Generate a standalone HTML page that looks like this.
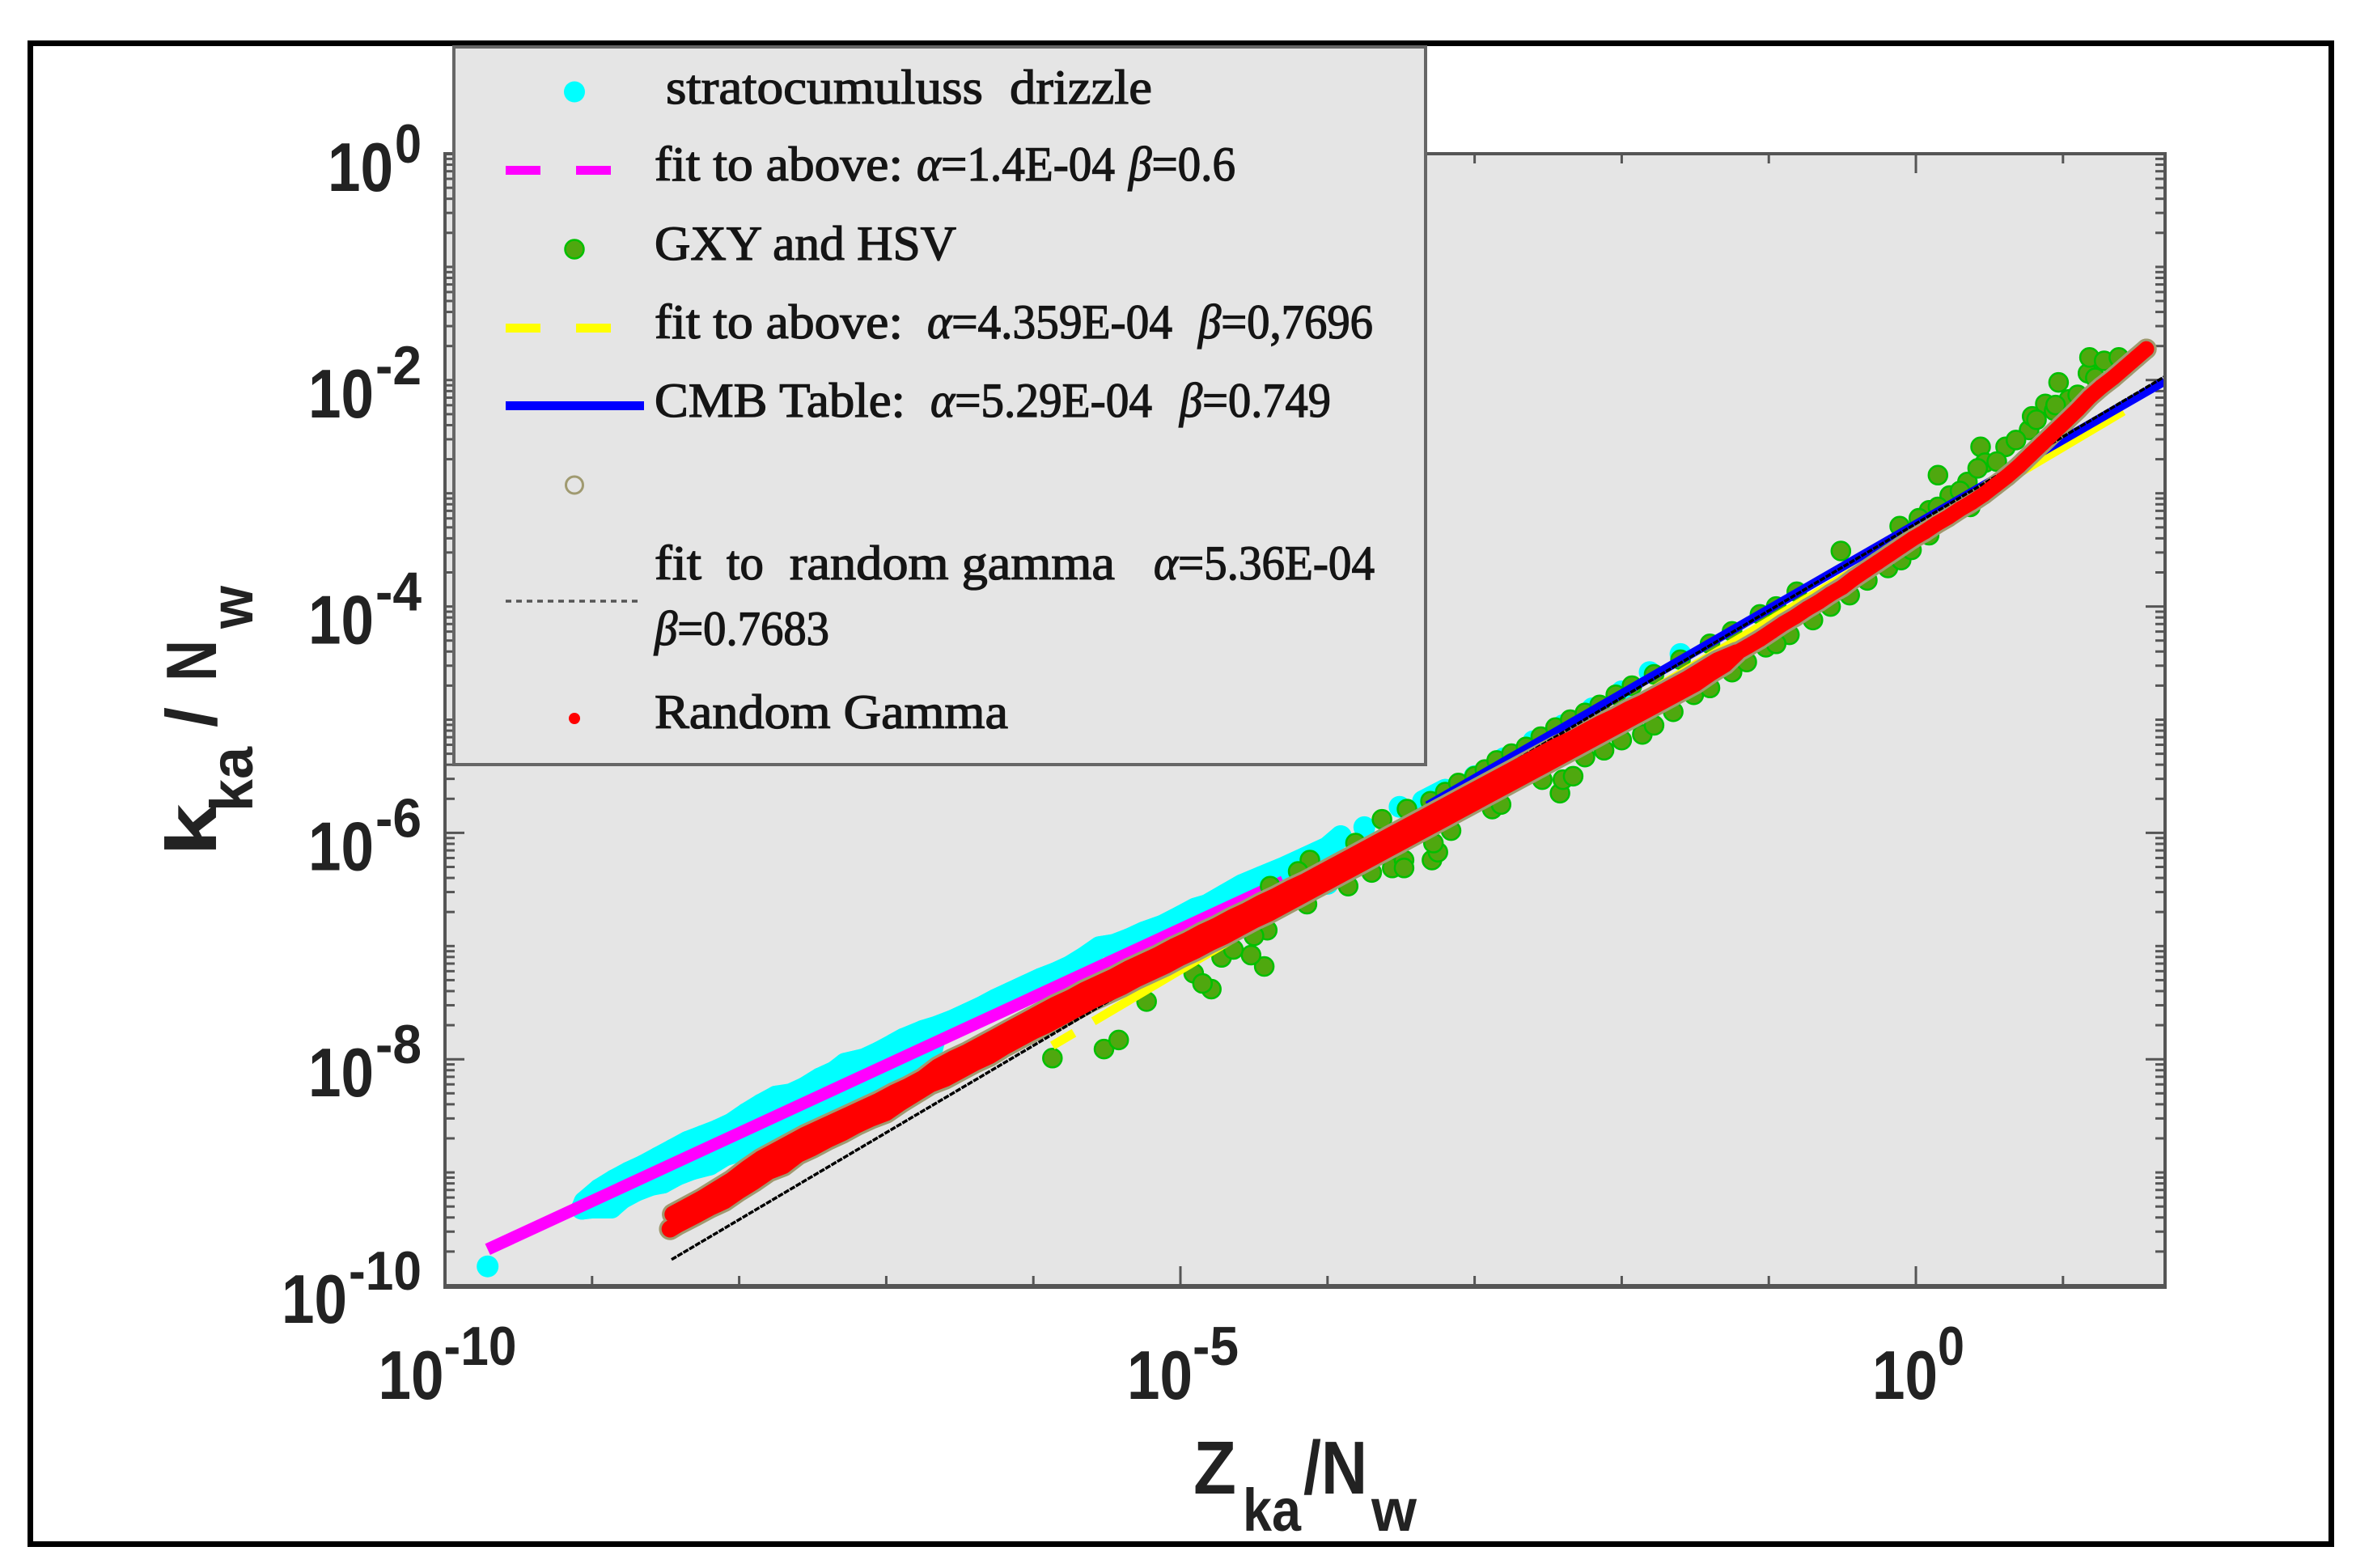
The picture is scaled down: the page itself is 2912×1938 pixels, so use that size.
<!DOCTYPE html>
<html lang="en">
<head>
<meta charset="utf-8">
<title>Specific attenuation versus reflectivity, normalised by Nw</title>
<style>
html,body{margin:0;padding:0;background:#fff;}
svg{display:block;}
.leg{font-family:"Liberation Serif",serif;font-size:60px;fill:#151515;stroke:#151515;stroke-width:1.3px;white-space:pre;}
.leg .g{font-style:italic;}
.tick{font-family:"Liberation Sans",sans-serif;font-weight:bold;fill:#222;}
.title{font-family:"Liberation Sans",sans-serif;font-weight:bold;fill:#222;}
</style>
</head>
<body>
<svg id="chart" xmlns="http://www.w3.org/2000/svg" width="2912" height="1938" viewBox="0 0 2912 1938">
  <rect x="0" y="0" width="2912" height="1938" fill="#fff"/>
  <rect x="37.5" y="53.5" width="2844" height="1855" fill="none" stroke="#000" stroke-width="7"/>
  <rect x="550" y="190" width="2126" height="1399" fill="#e5e5e5"/>
  <g id="ticks"></g>
  <g id="marks"></g>
  <rect x="550" y="190" width="2126" height="1399" fill="none" stroke="#555" stroke-width="4"/>
  <line x1="548" y1="1590" x2="2678" y2="1590" stroke="#555" stroke-width="6"/>
  <g id="ticklabels"></g>

  <g>
    <text class="title" transform="translate(267 1058) rotate(-90)" font-size="88" textLength="65" lengthAdjust="spacingAndGlyphs">k</text>
    <text class="title" transform="translate(312 1003) rotate(-90)" font-size="74" textLength="80" lengthAdjust="spacingAndGlyphs">ka</text>
    <text class="title" transform="translate(267 899) rotate(-90)" font-size="88" textLength="25" lengthAdjust="spacingAndGlyphs">/</text>
    <text class="title" transform="translate(267 842) rotate(-90)" font-size="88" textLength="51" lengthAdjust="spacingAndGlyphs">N</text>
    <text class="title" transform="translate(312 777) rotate(-90)" font-size="74" textLength="53" lengthAdjust="spacingAndGlyphs">w</text>
  </g>
  <g>
    <text class="title" x="1475" y="1846" font-size="93" textLength="53" lengthAdjust="spacingAndGlyphs">Z</text>
    <text class="title" x="1536" y="1892" font-size="74" textLength="72" lengthAdjust="spacingAndGlyphs">ka</text>
    <text class="title" x="1611" y="1846" font-size="93" textLength="79" lengthAdjust="spacingAndGlyphs">/N</text>
    <text class="title" x="1695" y="1892" font-size="74" textLength="56" lengthAdjust="spacingAndGlyphs">w</text>
  </g>

  <g>
    <rect x="561" y="58" width="1201" height="887" fill="#e5e5e5" stroke="#666" stroke-width="4"/>
    <g>
      <circle cx="710" cy="113.5" r="13" fill="#00ffff"/>
      <text class="leg" x="823" y="128" textLength="392" lengthAdjust="spacingAndGlyphs">stratocumuluss</text>
      <text class="leg" x="1248" y="128" textLength="176" lengthAdjust="spacingAndGlyphs">drizzle</text>
    </g>
    <g>
      <rect x="625" y="205" width="43" height="11" fill="#ff00ff"/>
      <rect x="712" y="205" width="43" height="11" fill="#ff00ff"/>
      <text class="leg" x="809" y="223" textLength="307" lengthAdjust="spacingAndGlyphs">fit to above:</text>
      <text class="leg" x="1133" y="223" textLength="245" lengthAdjust="spacingAndGlyphs"><tspan class="g">α</tspan>=1.4E-04</text>
      <text class="leg" x="1395" y="223" textLength="132" lengthAdjust="spacingAndGlyphs"><tspan class="g">β</tspan>=0.6</text>
    </g>
    <g>
      <circle cx="710" cy="308" r="11.5" fill="#4fa80f" stroke="#00c000" stroke-width="2.5"/>
      <text class="leg" x="809" y="321" textLength="373" lengthAdjust="spacingAndGlyphs">GXY and HSV</text>
    </g>
    <g>
      <rect x="625" y="400" width="43" height="11" fill="#ffff00"/>
      <rect x="712" y="400" width="43" height="11" fill="#ffff00"/>
      <text class="leg" x="809" y="418" textLength="307" lengthAdjust="spacingAndGlyphs">fit to above:</text>
      <text class="leg" x="1146" y="418" textLength="303" lengthAdjust="spacingAndGlyphs"><tspan class="g">α</tspan>=4.359E-04</text>
      <text class="leg" x="1481" y="418" textLength="216" lengthAdjust="spacingAndGlyphs"><tspan class="g">β</tspan>=0,7696</text>
    </g>
    <g>
      <rect x="625" y="496" width="171" height="11" fill="#0000ff"/>
      <text class="leg" x="809" y="515" textLength="310" lengthAdjust="spacingAndGlyphs">CMB Table:</text>
      <text class="leg" x="1150" y="515" textLength="274" lengthAdjust="spacingAndGlyphs"><tspan class="g">α</tspan>=5.29E-04</text>
      <text class="leg" x="1458" y="515" textLength="187" lengthAdjust="spacingAndGlyphs"><tspan class="g">β</tspan>=0.749</text>
    </g>
    <circle cx="710" cy="599.5" r="10.5" fill="none" stroke="#a09a70" stroke-width="3"/>
    <g>
      <line x1="625" y1="743" x2="790" y2="743" stroke="#555" stroke-width="3.5" stroke-dasharray="7 6"/>
      <text class="leg" x="809" y="716" textLength="58" lengthAdjust="spacingAndGlyphs">fit</text>
      <text class="leg" x="898" y="716" textLength="46" lengthAdjust="spacingAndGlyphs">to</text>
      <text class="leg" x="976" y="716" textLength="402" lengthAdjust="spacingAndGlyphs">random gamma</text>
      <text class="leg" x="1426" y="716" textLength="273" lengthAdjust="spacingAndGlyphs"><tspan class="g">α</tspan>=5.36E-04</text>
      <text class="leg" x="809" y="797" textLength="216" lengthAdjust="spacingAndGlyphs"><tspan class="g">β</tspan>=0.7683</text>
    </g>
    <g>
      <circle cx="710" cy="888" r="7" fill="#ff0000"/>
      <text class="leg" x="809" y="900" textLength="437" lengthAdjust="spacingAndGlyphs">Random Gamma</text>
    </g>
  </g>
</svg>

<script>
/* ---- axis tick data (decades) ---- */
const xLabelExps = [-10, -5, 0];
const xMajorExps = [-5, 0];
const xMinorExps = [-9, -8, -7, -6, -4, -3, -2, -1, 1];
const yLabelExps = [0, -2, -4, -6, -8, -10];
const yMajorExps = [-2, -4, -6, -8];
const yMinorDecades = [-1, -2, -3, -4, -5, -6, -7, -8, -9, -10];
const yMinorMultipliers = [2, 3, 4, 5, 6, 7, 8, 9];
const xLimits = [-10, 1.694];
const yLimits = [-10, 0];

/* ---- series, log10(Z/Nw) and log10(k/Nw) ---- */
const cyanUpperLogZ = [-9.05,-8.95,-8.85,-8.75,-8.65,-8.55,-8.45,-8.35,-8.25,-8.15,-8.05,-7.95,-7.85,-7.75,-7.65,-7.55,-7.45,-7.35,-7.28,-7.15,-7.05,-6.95,-6.88,-6.75,-6.65,-6.55,-6.45,-6.35,-6.25,-6.15,-6.05,-5.95,-5.85,-5.75,-5.65,-5.55,-5.45,-5.35,-5.25,-5.12,-5.00,-4.90,-4.82,-4.70,-4.58,-4.45,-4.30,-4.15,-4.00,-3.91,-3.75,-3.51,-3.35,-3.20,-3.00,-2.80,-2.60,-2.40,-2.20,-2.00,-1.81,-1.60];
const cyanUpperLogK = [-9.26,-9.15,-9.07,-9.00,-8.94,-8.87,-8.80,-8.73,-8.68,-8.63,-8.57,-8.48,-8.40,-8.33,-8.31,-8.25,-8.17,-8.11,-8.04,-8.00,-7.94,-7.87,-7.82,-7.75,-7.71,-7.66,-7.60,-7.54,-7.47,-7.41,-7.35,-7.29,-7.24,-7.18,-7.10,-7.01,-6.99,-6.94,-6.88,-6.82,-6.74,-6.67,-6.64,-6.55,-6.46,-6.39,-6.31,-6.22,-6.13,-6.03,-5.95,-5.77,-5.72,-5.62,-5.50,-5.34,-5.19,-5.05,-4.90,-4.75,-4.58,-4.42];
const cyanLowerLogZ = [-9.07,-9.00,-8.87,-8.80,-8.70,-8.60,-8.52,-8.42,-8.32,-8.20,-8.10,-8.00,-7.90,-7.80,-7.70,-7.60,-7.45,-7.30,-7.15,-7.00,-6.85,-6.70];
const cyanLowerLogK = [-9.32,-9.31,-9.31,-9.23,-9.16,-9.11,-9.09,-9.02,-8.97,-8.93,-8.85,-8.81,-8.73,-8.68,-8.59,-8.52,-8.43,-8.34,-8.24,-8.15,-8.06,-7.97];
const cyanExtraLogZ = [-9.71, -4.00];
const cyanExtraLogK = [-9.83, -6.45];

const greenLogZ = [-5.87,-5.52,-5.42,-5.23,-4.79,-4.91,-4.85,-4.43,-4.52,-4.72,-4.64,-4.41,-4.50,-4.14,-3.86,-3.70,-3.56,-3.48,-3.48,-3.29,-3.25,-3.28,-3.16,-2.88,-2.82,-2.42,-2.40,-2.33,-2.54,-2.12,-1.86,-1.78,-1.51,-1.25,-1.02,-0.86,-0.58,-0.33,-0.19,
  -4.39,-4.12,-4.20,-3.81,-3.63,-3.46,-3.30,-3.20,-3.11,-3.00,-2.93,-2.85,-2.75,-2.65,-2.55,-2.45,-2.35,-2.25,-2.15,-2.04,-1.93,-1.78,-1.60,-1.40,-1.25,-1.06,-0.95,-0.81,
  -2.25,-2.00,-1.65,-1.40,-1.15,-0.95,-0.70,-0.45,-0.10,-0.03,
  -0.51,-0.11,0.09,0.15,0.23,0.35,0.44,0.47,0.61,0.77,0.79,0.88,0.94,1.04,0.97,1.17,1.18,1.28,1.38,
  0.02,0.15,0.30,0.42,0.55,0.68,0.82,0.95,1.10,1.22,0.09,0.37];
const greenLogK = [-7.99,-7.91,-7.83,-7.49,-7.38,-7.24,-7.33,-7.18,-7.08,-7.10,-7.03,-6.86,-6.91,-6.63,-6.47,-6.35,-6.31,-6.24,-6.31,-6.24,-6.17,-6.09,-5.98,-5.79,-5.75,-5.65,-5.53,-5.50,-5.53,-5.27,-5.13,-5.05,-4.78,-4.58,-4.36,-4.25,-4.00,-3.77,-3.66,
  -6.47,-6.24,-6.34,-6.09,-5.88,-5.79,-5.72,-5.64,-5.56,-5.50,-5.44,-5.36,-5.30,-5.24,-5.15,-5.07,-5.00,-4.94,-4.87,-4.78,-4.70,-4.60,-4.47,-4.33,-4.22,-4.07,-4.00,-3.87,
  -5.33,-5.18,-4.93,-4.72,-4.49,-4.33,-4.12,-3.90,-3.59,-3.50,
  -3.51,-3.29,-3.15,-2.84,-3.02,-2.90,-2.59,-2.73,-2.59,-2.44,-2.32,-2.21,-2.27,-2.17,-2.02,-1.94,-1.80,-1.83,-1.80,
  -3.22,-3.12,-2.98,-2.78,-2.72,-2.53,-2.35,-2.22,-2.13,-1.98,-3.37,-3.12];

const gammaUpperLogZ = [-8.45,-8.35,-8.25,-8.15,-8.05,-7.95,-7.85,-7.75,-7.65,-7.55,-7.45,-7.35,-7.25,-7.15,-7.05,-6.95,-6.85,-6.75,
  -6.65,-6.55,-6.45,-6.35,-6.25,-6.15,-6.05,-5.95,-5.85,-5.75,
  -5.65,-5.55,-5.45,-5.35,-5.25,-5.15,-5.05,-4.95,-4.85,-4.75,
  -4.65,-4.55,-4.45,-4.35,-4.25,-4.15,-4.05,-3.95,-3.85,-3.75,
  -3.65,-3.55,-3.45,-3.35,-3.25,-3.15,-3.05,-2.95,-2.85,-2.75,
  -2.65,-2.55,-2.45,-2.35,-2.25,-2.15,-2.05,-1.95,-1.85,-1.75,
  -1.65,-1.55,-1.45,-1.35];
const gammaUpperLogK = [-9.37,-9.30,-9.23,-9.15,-9.07,-8.97,-8.88,-8.81,-8.74,-8.67,-8.61,-8.55,-8.49,-8.43,-8.37,-8.30,-8.24,-8.17,
  -8.07,-8.00,-7.94,-7.87,-7.80,-7.73,-7.66,-7.59,-7.52,-7.46,
  -7.39,-7.33,-7.27,-7.20,-7.14,-7.08,-7.01,-6.95,-6.88,-6.82,
  -6.75,-6.69,-6.62,-6.56,-6.49,-6.43,-6.36,-6.29,-6.22,-6.15,
  -6.08,-6.01,-5.94,-5.87,-5.80,-5.73,-5.66,-5.59,-5.52,-5.45,
  -5.38,-5.31,-5.24,-5.18,-5.11,-5.04,-4.98,-4.91,-4.85,-4.78,
  -4.71,-4.64,-4.56,-4.48];
const gammaLowerLogZ = [-8.47,-8.42,-8.30,-8.20,-8.10,-8.00,-7.90,-7.80,-7.70,-7.60,-7.50,-7.40,-7.30,-7.20,-7.10,-7.00,-6.90,-6.80,-6.70,
  -6.60,-6.50,-6.40,-6.30,-6.20,-6.10,-6.00,-5.90,-5.80,-5.70,
  -5.60,-5.50,-5.40,-5.30,-5.20,-5.10,-5.00,-4.90,-4.80,-4.70,
  -4.60,-4.50,-4.40,-4.30,-4.20,-4.10,-4.00,-3.90,-3.80,-3.70,
  -3.60,-3.50,-3.40,-3.30,-3.20,-3.10,-3.00,-2.90,-2.80,-2.70,
  -2.60,-2.50,-2.40,-2.30,-2.20,-2.10,-2.00,-1.90,-1.80,-1.70,
  -1.60,-1.50,-1.40,-1.30];
const gammaLowerLogK = [-9.50,-9.46,-9.38,-9.31,-9.25,-9.16,-9.08,-8.99,-8.94,-8.84,-8.78,-8.71,-8.65,-8.58,-8.52,-8.47,-8.38,-8.30,-8.22,
  -8.17,-8.10,-8.03,-7.97,-7.89,-7.82,-7.75,-7.69,-7.62,-7.55,
  -7.48,-7.42,-7.36,-7.29,-7.23,-7.17,-7.10,-7.04,-6.97,-6.91,
  -6.84,-6.77,-6.71,-6.64,-6.57,-6.50,-6.43,-6.36,-6.29,-6.22,
  -6.15,-6.08,-6.01,-5.94,-5.87,-5.80,-5.73,-5.66,-5.59,-5.52,
  -5.45,-5.38,-5.31,-5.24,-5.17,-5.10,-5.03,-4.96,-4.89,-4.82,
  -4.75,-4.68,-4.59,-4.51];
const gammaTailLogZ = [-1.22,-1.14,-1.06,-0.98,-0.90,-0.82,-0.74,-0.66,-0.58,-0.50,-0.42,-0.34,-0.26,-0.18,-0.10,-0.02,0.06,0.14,0.22,0.30,0.38,0.46,0.54,0.62,0.70,0.78,0.86,0.94,1.02,1.10,1.18,1.26,1.34,1.42,1.50,1.567];
const gammaTailLogK = [-4.41,-4.35,-4.29,-4.22,-4.15,-4.09,-4.02,-3.96,-3.89,-3.83,-3.75,-3.68,-3.61,-3.54,-3.47,-3.40,-3.34,-3.27,-3.21,-3.14,-3.08,-3.01,-2.93,-2.85,-2.76,-2.66,-2.56,-2.46,-2.36,-2.26,-2.15,-2.06,-1.98,-1.89,-1.80,-1.725];

const magentaFitLogZ = [-9.71, -4.30];
const magentaFitLogK = [-9.68, -6.43];
const yellowFitLogZ = [-5.87, 1.41];
const yellowFitLogK = [-7.88, -2.275];
const blueFitLogZ = [-3.32, 1.69];
const blueFitLogK = [-5.76, -2.01];
const blackFitLogZ = [-8.46, 1.69];
const blackFitLogK = [-9.77, -1.97];

/* ---- axis functions ---- */
const plotLeft = 550, plotRight = 2676, plotTop = 190, plotBottom = 1589;
function xScale(v){ return plotLeft + (v - xLimits[0]) / (xLimits[1] - xLimits[0]) * (plotRight - plotLeft); }
function yScale(v){ return plotBottom - (v - yLimits[0]) / (yLimits[1] - yLimits[0]) * (plotBottom - plotTop); }

const NS = 'http://www.w3.org/2000/svg';
const marks = document.getElementById('marks');
const ticks = document.getElementById('ticks');
const tickLabels = document.getElementById('ticklabels');
function mk(parent, tag, attrs){
  const node = document.createElementNS(NS, tag);
  for (const k in attrs) node.setAttribute(k, attrs[k]);
  parent.appendChild(node);
  return node;
}
function fitPath(zs, ks){
  return zs.map((z, i) => (i ? 'L' : 'M') + xScale(z).toFixed(1) + ' ' + yScale(ks[i]).toFixed(1)).join(' ');
}
/* joins neighbouring points (ordered by Z), lifting the pen across gaps wider than maxGap,
   so that a dense cloud reads as a solid band */
function cloudPath(zs, ks, maxGap){
  const order = zs.map((z, i) => i).sort((a, b) => zs[a] - zs[b]);
  let d = '';
  order.forEach((idx, n) => {
    const gap = n ? zs[idx] - zs[order[n - 1]] : Infinity;
    d += (gap > maxGap ? 'M' : 'L') + xScale(zs[idx]).toFixed(1) + ' ' + yScale(ks[idx]).toFixed(1) + ' ';
  });
  return d;
}

/* ticks */
const tickStroke = '#555', tickWidth = 3, majorLen = 24, minorLen = 12;
xMajorExps.forEach(e => {
  const x = xScale(e);
  const b = mk(ticks, 'line', {x1:x, x2:x, y1:plotBottom, y2:plotBottom - majorLen, stroke:tickStroke, 'stroke-width':tickWidth});
  
  
  const t = mk(ticks, 'line', {x1:x, x2:x, y1:plotTop, y2:plotTop + majorLen, stroke:tickStroke, 'stroke-width':tickWidth});
  
  
});
xMinorExps.forEach(e => {
  const x = xScale(e);
  const b = mk(ticks, 'line', {x1:x, x2:x, y1:plotBottom, y2:plotBottom - minorLen, stroke:tickStroke, 'stroke-width':tickWidth});
  
  
  const t = mk(ticks, 'line', {x1:x, x2:x, y1:plotTop, y2:plotTop + minorLen, stroke:tickStroke, 'stroke-width':tickWidth});
  
  
});
yMajorExps.forEach(e => {
  const y = yScale(e);
  const l = mk(ticks, 'line', {x1:plotLeft, x2:plotLeft + majorLen, y1:y, y2:y, stroke:tickStroke, 'stroke-width':tickWidth});
  
  
  const r = mk(ticks, 'line', {x1:plotRight, x2:plotRight - majorLen, y1:y, y2:y, stroke:tickStroke, 'stroke-width':tickWidth});
  
  
});
yMinorDecades.forEach(d => {
  yMinorMultipliers.forEach(m => {
    const y = yScale(d + Math.log10(m));
    const l = mk(ticks, 'line', {x1:plotLeft, x2:plotLeft + minorLen, y1:y, y2:y, stroke:tickStroke, 'stroke-width':tickWidth});
    
    
    const r = mk(ticks, 'line', {x1:plotRight, x2:plotRight - minorLen, y1:y, y2:y, stroke:tickStroke, 'stroke-width':tickWidth});
    
    
  });
  if (d % 2 !== 0) {
    const y = yScale(d);
    const l = mk(ticks, 'line', {x1:plotLeft, x2:plotLeft + minorLen, y1:y, y2:y, stroke:tickStroke, 'stroke-width':tickWidth});
    
    
    const r = mk(ticks, 'line', {x1:plotRight, x2:plotRight - minorLen, y1:y, y2:y, stroke:tickStroke, 'stroke-width':tickWidth});
    
    
  }
});

/* tick labels */
function supWidth(s){ return s.length === 1 ? 33 : s.length === 2 ? 57 : 90; }
yLabelExps.forEach(e => {
  const s = String(e), w = supWidth(s), y = yScale(e), base = y + 46;
  const b = mk(tickLabels, 'text', {class:'tick', x:521 - w - 83, y:base, 'font-size':85, textLength:81, lengthAdjust:'spacingAndGlyphs'});
  b.textContent = '10';
  
  
  const p = mk(tickLabels, 'text', {class:'tick', x:521 - w, y:base - (e === 0 ? 35 : 41), 'font-size':68, textLength:w, lengthAdjust:'spacingAndGlyphs'});
  p.textContent = s;
  
  
});
xLabelExps.forEach(e => {
  const s = String(e), w = supWidth(s), cx = xScale(e) + 3, start = cx - (81 + w) / 2;
  const b = mk(tickLabels, 'text', {class:'tick', x:start, y:1729, 'font-size':85, textLength:81, lengthAdjust:'spacingAndGlyphs'});
  b.textContent = '10';
  
  
  const p = mk(tickLabels, 'text', {class:'tick', x:start + 81, y:1687, 'font-size':68, textLength:w, lengthAdjust:'spacingAndGlyphs'});
  p.textContent = s;
  
  
});

/* series, in legend order */
const roundStroke = {fill:'none', 'stroke-linecap':'round', 'stroke-linejoin':'round'};

const cyanAllZ = cyanUpperLogZ.concat(cyanLowerLogZ);
const cyanAllK = cyanUpperLogK.concat(cyanLowerLogK);
const cyanFill = mk(marks, 'path', Object.assign({d:cloudPath(cyanAllZ, cyanAllK, 0.155), stroke:'#00ffff', 'stroke-width':27}, roundStroke));


const cyanUpperEdge = mk(marks, 'path', Object.assign({d:cloudPath(cyanUpperLogZ, cyanUpperLogK, 0.155), stroke:'#00ffff', 'stroke-width':27}, roundStroke));


const cyanLowerEdge = mk(marks, 'path', Object.assign({d:cloudPath(cyanLowerLogZ, cyanLowerLogK, 0.155), stroke:'#00ffff', 'stroke-width':27}, roundStroke));


cyanAllZ.concat(cyanExtraLogZ).forEach((z, i) => {
  const k = cyanAllK.concat(cyanExtraLogK)[i];
  const c = mk(marks, 'circle', {cx:xScale(z).toFixed(1), cy:yScale(k).toFixed(1), r:13.5, fill:'#00ffff'});
  
  
});
const magentaLine = mk(marks, 'path', {d:fitPath(magentaFitLogZ, magentaFitLogK), fill:'none', stroke:'#ff00ff', 'stroke-width':15});



greenLogZ.forEach((z, i) => {
  const c = mk(marks, 'circle', {cx:xScale(z).toFixed(1), cy:yScale(greenLogK[i]).toFixed(1), r:11.5, fill:'#4fa80f', stroke:'#00c000', 'stroke-width':2.5});
  
  
});
const yellowLine = mk(marks, 'path', {d:fitPath(yellowFitLogZ, yellowFitLogK), fill:'none', stroke:'#ffff00', 'stroke-width':11, 'stroke-dasharray':'31 28 4000'});



const blueLine = mk(marks, 'path', {d:fitPath(blueFitLogZ, blueFitLogK), fill:'none', stroke:'#0000ff', 'stroke-width':11});



const gammaUpperPath = fitPath(gammaUpperLogZ.concat(gammaTailLogZ[0]), gammaUpperLogK.concat(gammaTailLogK[0]));
const gammaLowerPath = fitPath(gammaLowerLogZ.concat(gammaTailLogZ[0]), gammaLowerLogK.concat(gammaTailLogK[0]));
const gammaTailPath = fitPath(gammaTailLogZ, gammaTailLogK);
const gammaAllZ = gammaUpperLogZ.concat(gammaLowerLogZ, gammaTailLogZ);
const gammaAllK = gammaUpperLogK.concat(gammaLowerLogK, gammaTailLogK);

const oliveUpper = mk(marks, 'path', Object.assign({d:gammaUpperPath, stroke:'#a09a70', 'stroke-width':27.5}, roundStroke));


const oliveLower = mk(marks, 'path', Object.assign({d:gammaLowerPath, stroke:'#a09a70', 'stroke-width':27.5}, roundStroke));


const oliveTail = mk(marks, 'path', Object.assign({d:gammaTailPath, stroke:'#a09a70', 'stroke-width':25.5}, roundStroke));


gammaAllZ.forEach((z, i) => {
  const c = mk(marks, 'circle', {cx:xScale(z).toFixed(1), cy:yScale(gammaAllK[i]).toFixed(1), r:11, fill:'none', stroke:'#a09a70', 'stroke-width':3.5});
  
  
});
const blackLine = mk(marks, 'path', {d:fitPath(blackFitLogZ, blackFitLogK), fill:'none', stroke:'#000', 'stroke-width':3.5, 'stroke-dasharray':'7 1.5'});



const redUpper = mk(marks, 'path', Object.assign({d:gammaUpperPath, stroke:'#ff0000', 'stroke-width':21}, roundStroke));


const redLower = mk(marks, 'path', Object.assign({d:gammaLowerPath, stroke:'#ff0000', 'stroke-width':21}, roundStroke));


const redTail = mk(marks, 'path', Object.assign({d:gammaTailPath, stroke:'#ff0000', 'stroke-width':19}, roundStroke));


gammaAllZ.forEach((z, i) => {
  const c = mk(marks, 'circle', {cx:xScale(z).toFixed(1), cy:yScale(gammaAllK[i]).toFixed(1), r:9.5, fill:'#ff0000'});
  
  
});
</script>
</body>
</html>
